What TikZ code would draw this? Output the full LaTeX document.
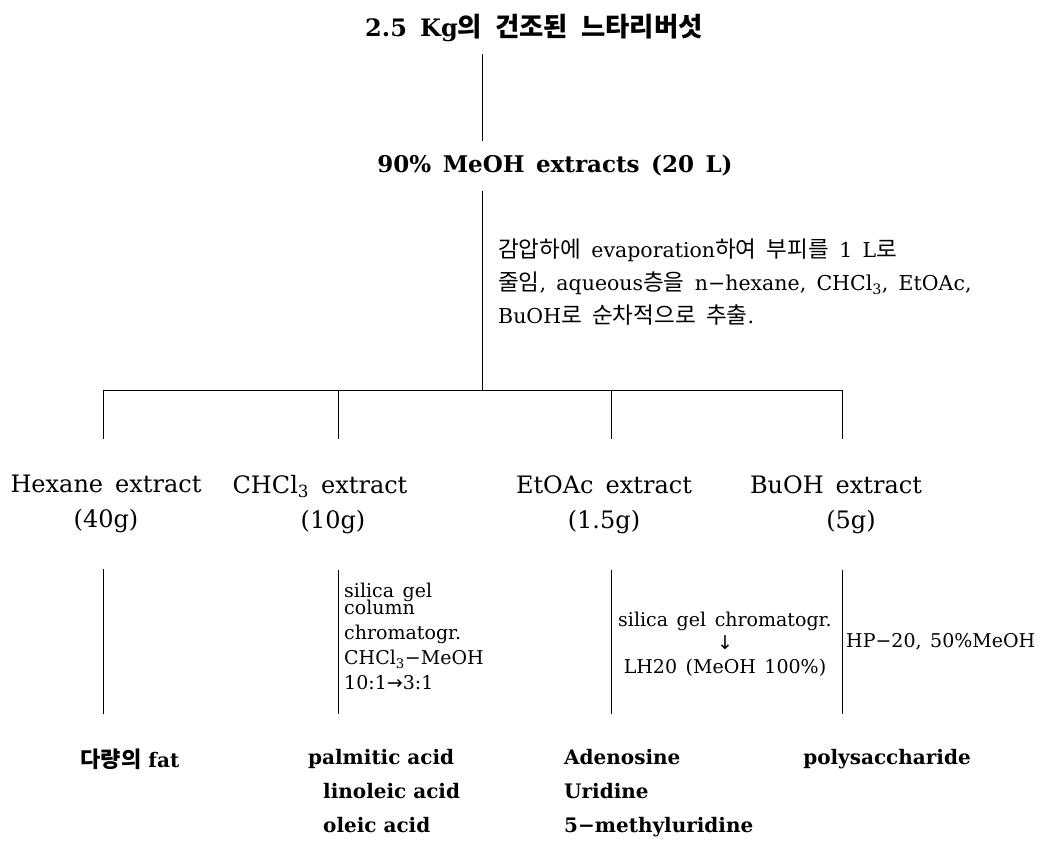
\documentclass[tikz,border=0pt]{standalone}
\usepackage{fontspec}
\setmainfont{DejaVu Serif}
\newfontfamily\kr[Scale=1.1]{Noto Sans CJK KR}
\newfontfamily\arrowfont{DejaVu Sans}
\usetikzlibrary{calc}
\newcommand\widegap[1]{\spaceskip=#1em\relax}

\begin{document}
\begin{tikzpicture}[
        x=1pt, y=-1pt,
        link/.style={draw=black, line width=1pt},
        head/.style={font=\fontsize{24}{28}\selectfont\bfseries\widegap{0.55}, inner xsep=0pt, inner ysep=12pt},
        extract/.style={font=\fontsize{24}{35}\selectfont\widegap{0.5}, align=center, inner xsep=0pt, inner ysep=36pt},
        note/.style={font=\fontsize{19}{25}\selectfont\widegap{0.45}, inner sep=0pt},
        product/.style={font=\fontsize{20}{34}\selectfont\bfseries, align=left, inner xsep=0pt, inner ysep=35pt}
    ]
        \path[fill=white, use as bounding box] (0,0) rectangle (1042,845);

        \coordinate (trunk) at (482,0);
        \node[head] (raw) at (534,28) {2.5 Kg{\kr 의 건조된 느타리버섯}};
        \node[head, inner ysep=14pt, font=\fontsize{23}{28}\selectfont\bfseries\widegap{0.5}] (meoh) at (555,166) {90\% MeOH extracts (20 L)};
        \node[note, anchor=north west, align=left, font=\fontsize{20.5}{33}\selectfont\widegap{0.5}] (evap) at (498,239)
            {{\kr 감압하에} evaporation{\kr 하여 부피를} 1 L{\kr 로}\\
             {\kr 줄임}, aqueous{\kr 층을} n−hexane, CHCl\textsubscript{3}, EtOAc,\\
             BuOH{\kr 로 순차적으로 추출}.};

        \coordinate (b1) at (103,390);
        \coordinate (b2) at (338,390);
        \coordinate (b3) at (611,390);
        \coordinate (b4) at (842,390);

        \draw[link] (raw.south -| trunk) -- (meoh.north -| trunk);
        \draw[link] (meoh.south -| trunk) -- (trunk |- b1);
        \draw[link] (b1) -- (b4);

        \node[extract, anchor=north] (hex) at (106,439) {Hexane extract\\(40g)};
        \node[extract, anchor=north] (chl) at (320,439) {CHCl\textsubscript{3} extract\\\hspace*{26pt}(10g)};
        \node[extract, anchor=north] (eto) at (604,439) {EtOAc extract\\(1.5g)};
        \node[extract, anchor=north] (buo) at (836,439) {BuOH extract\\\hspace*{30pt}(5g)};

        \foreach \b/\e in {b1/hex, b2/chl, b3/eto, b4/buo}
            \draw[link] (\b) -- (\b |- \e.north);

        \node[note, anchor=north west, align=left] (silica) at (344,583)
            {silica gel\\[-8pt]column\\chromatogr.\\CHCl\textsubscript{3}−MeOH\\10:1{\arrowfont →}3:1};
        \node[note, align=center, font=\fontsize{19}{23.5}\selectfont\widegap{0.45}] (lh) at (725,644)
            {silica gel chromatogr.\\{\arrowfont ↓}\\LH20 (MeOH 100\%)};
        \node[note, anchor=west] (hp) at (846,642) {HP−20, 50\%MeOH};

        \node[product, anchor=north] (fat) at (130,714) {{\kr 다량의} fat};
        \node[product, anchor=north west] (acid) at (308,714)
            {palmitic acid\\\hspace*{15pt}linoleic acid\\\hspace*{15pt}oleic acid};
        \node[product, anchor=north west] (nuc) at (564,714) {Adenosine\\Uridine\\5−methyluridine};
        \node[product, anchor=north] (poly) at (887,714) {polysaccharide};

        \foreach \b/\e/\p in {b1/hex/fat, b2/chl/acid, b3/eto/nuc, b4/buo/poly}
            \draw[link] (\b |- \e.south) -- (\b |- \p.north);
    \end{tikzpicture}
\end{document}
